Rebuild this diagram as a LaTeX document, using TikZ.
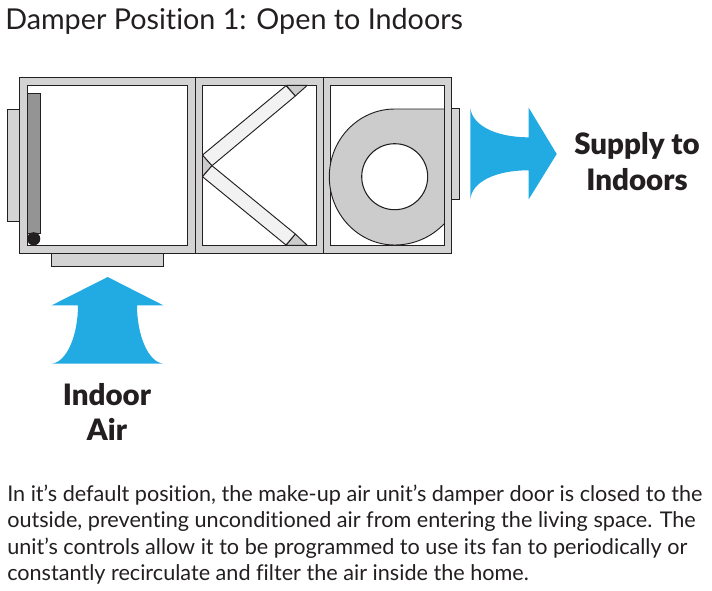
\documentclass[tikz,border=0pt]{standalone}
\usepackage{fontspec}
\setmainfont[Ligatures=NoCommon]{Lato}
\newfontfamily\labelfont[Ligatures=NoCommon]{Lato Black}
\definecolor{framefill}{HTML}{D3D3D3}
\definecolor{fanfill}{HTML}{CCCCCC}
\definecolor{airblue}{HTML}{22ABE3}
\definecolor{ink}{HTML}{231F20}
\tikzset{
  unit/.style={draw=ink,line width=0.95pt,fill=framefill},
  bay/.style={draw=ink,line width=0.95pt,fill=white},
  filterbar/.style={draw=ink,line width=0.7pt,fill=white!95!black,line join=round},
  wedge/.style={draw=ink,line width=0.7pt,fill=fanfill,line join=round},
  air/.style={fill=airblue},
  flowlabel/.style={font=\labelfont\fontsize{22.1}{26.4}\selectfont,text=ink,align=center,inner sep=0pt},
  heading/.style={font=\fontsize{21.55}{25}\selectfont,text=ink,anchor=base west,inner sep=0pt},
  para/.style={font=\fontsize{16.22}{19.9}\selectfont,text=ink,align=left,anchor=north west,inner sep=0pt}
}
\begin{document}
\begin{tikzpicture}[x=0.75pt,y=-0.75pt]
\useasboundingbox[fill=white] (0,0) rectangle (712,590);
% flanges
\draw[unit] (7.3,109.3) rectangle (19.3,221.7);
\draw[unit] (51.3,253.3) rectangle (163.7,266.7);
\draw[unit] (451.3,108.3) rectangle (459.3,199.3);
% casing
\draw[unit] (19.3,77.5) rectangle (451.3,253.3);
\draw[draw=ink,line width=0.95pt] (195.3,77.5) -- (195.3,253.3);
\draw[draw=ink,line width=0.95pt] (323.3,77.5) -- (323.3,253.3);
\draw[bay] (27.3,85.3) rectangle (187.3,245.3);
\draw[bay] (202.3,85.3) rectangle (316.7,245.3);
\draw[bay] (330.3,85.3) rectangle (444.3,245.3);
% damper
\draw[draw=ink,line width=0.95pt,fill=black!42] (27.3,93.3) rectangle (40.7,233.3);
\fill[ink] (33.7,238.8) circle[radius=6.6*0.75pt];
% filters
\draw[wedge] (286,85.3) -- (307.3,85.3) -- (295.3,96) -- cycle;
\draw[wedge] (295.3,234) -- (307.3,245.3) -- (286,245.3) -- cycle;
\draw[wedge] (202.5,155) -- (212,165.7) -- (202.5,176.7) -- cycle;
\draw[filterbar] (202.5,155) -- (286,85.7) -- (295.3,96) -- (212,165.7) -- cycle;
\draw[filterbar] (202.5,176.7) -- (212,165.7) -- (295.3,234) -- (286,245) -- cycle;
% fan
\fill[fanfill] (444.3,109) -- (394.7,109)
  .. controls (358.6,109) and (329.3,139.3) .. (329.3,176.7)
  .. controls (329.3,214.4) and (358.6,245) .. (394.7,245)
  .. controls (413.5,245) and (431.4,237.3) .. (444.3,223.6) -- cycle;
\draw[draw=ink,line width=0.7pt] (444.3,109) -- (394.7,109)
  .. controls (358.6,109) and (329.3,139.3) .. (329.3,176.7)
  .. controls (329.3,214.4) and (358.6,245) .. (394.7,245)
  .. controls (413.5,245) and (431.4,237.3) .. (444.3,223.6);
\draw[draw=ink,line width=0.95pt] (444.3,109) -- (444.3,223.6);
\draw[draw=ink,line width=0.8pt,fill=white] (394.7,176.7) circle[radius=33*0.75pt];
% airflow arrows
\fill[air] (470.3,107.7) .. controls (472,125) and (495,137.3) .. (528.7,137.3)
  -- (528.7,107.7) -- (556.7,154) -- (528.7,199.3) -- (528.7,170.3)
  .. controls (495,170.3) and (472,182) .. (470.3,199.3) -- cycle;
\fill[air] (107.7,277) -- (163.3,305.3) -- (137,305.3)
  .. controls (137,335) and (148,362) .. (163.3,363.7) -- (51.7,363.7)
  .. controls (67,362) and (78,335) .. (78,305.3) -- (51.7,305.3) -- cycle;
% text
\node[heading] (title) at (5,29.5) {Damper Position 1: Open to Indoors};
\node[flowlabel] (supply) at (637,161.5) {Supply to\\Indoors};
\node[flowlabel] (indoor) at (107,412) {Indoor\\Air};
\node[para] (body) at (7,484.5) {In it’s default position, the make-up air unit’s damper door is closed to the\\
outside, preventing unconditioned air from entering the living space. The\\
unit’s controls allow it to be programmed to use its fan to periodically or\\
constantly recirculate and filter the air inside the home.};
\end{tikzpicture}
\end{document}
